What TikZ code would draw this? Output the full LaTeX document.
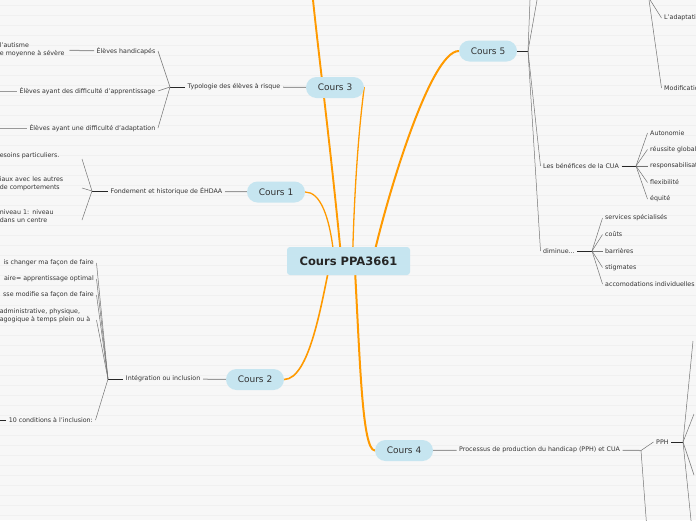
\documentclass[tikz,border=0pt]{standalone}
\usepackage{fontspec}
\setmainfont{DejaVu Sans}
\definecolor{bulle}{HTML}{C6E5F0}
\definecolor{orangebr}{HTML}{FF9A00}
\definecolor{encre}{HTML}{333333}
\definecolor{papier}{HTML}{F7F7F7}
\definecolor{raie}{HTML}{F0F0F0}
\pgfdeclarelayer{dessous}
\pgfsetlayers{dessous,main}
\tikzstyle{root} = [fill=bulle, rounded corners=3pt, minimum width=123pt, minimum height=28pt, font=\fontsize{11.5}{13}\selectfont\bfseries, text=black!85]
\tikzstyle{cours} = [fill=bulle, rounded corners=10.5pt, minimum width=58pt, minimum height=21pt, font=\fontsize{9}{10}\selectfont, text=encre]
\tikzstyle{topic} = [inner sep=2.5pt, font=\fontsize{6.3}{7.6}\selectfont, text=encre]
\tikzstyle{leaf} = [topic]
\tikzstyle{cut} = [leaf, align=left]
\tikzstyle{branch} = [draw=orangebr, line cap=round]
\tikzstyle{link} = [draw=black!40, line width=1pt]
\tikzstyle{hub} = [draw=black!85, line width=1pt]
\tikzstyle{fan} = [draw=black!55, line width=0.5pt]

\begin{document}
\begin{tikzpicture}[x=1pt, y=-1pt]
\useasboundingbox (0,0) rectangle (696,520);
\begin{pgfonlayer}{dessous}
\fill[papier] (0,0) rectangle (696,520);
\foreach \r in {5,15,...,515} \draw[raie, line width=1pt] (0,\r) -- (696,\r);
\end{pgfonlayer}

\node (root)[root] at (348.5,261) {Cours PPA3661};
\node (cours3)[cours] at (335,87.5) {Cours 3};
\node (cours1)[cours] at (276,192) {Cours 1};
\node (cours2)[cours] at (255,379.5) {Cours 2};
\node (cours5)[cours] at (488,51) {Cours 5};
\node (cours4)[cours] at (404,450.5) {Cours 4};
\coordinate (haut) at (312.5,-5);

\begin{pgfonlayer}{dessous}
\draw[branch, line width=1.9pt] ([xshift=-7pt]root.center) .. controls (331,150) and (318,50) .. (haut);
\draw[branch, line width=1.3pt] ([xshift=-14pt]root.center) .. controls (330,215) and (320,192) .. (cours1.east);
\draw[branch, line width=1.3pt] ([xshift=4pt]root.center) .. controls (355,160) and (362,105) .. (cours3.east);
\draw[branch, line width=2pt] ([xshift=24pt]root.center) .. controls (386,200) and (430,51) .. (cours5.west);
\draw[branch, line width=1.6pt] ([xshift=-18pt]root.center) .. controls (322,300) and (310,379) .. (cours2.east);
\draw[branch, line width=2pt] ([xshift=6pt]root.center) .. controls (360,360) and (362,450) .. (cours4.west);
\end{pgfonlayer}

\node (typo)[topic, anchor=east] at (283,87) {Typologie des élèves à risque};
\coordinate (j3) at (170,87);
\node (hand)[leaf, anchor=east] at (158,51) {Élèves handicapés};
\node (appr)[leaf, anchor=east] at (158,91) {Élèves ayant des difficulté d'apprentissage};
\node (adap)[leaf, anchor=east] at (158,128) {Élèves ayant une difficulté d'adaptation};
\node (autisme)[cut, text width=67pt, anchor=east] at (69.5,50) {l'autisme\\e moyenne à sévère};
\coordinate (appr-suite) at (-5,91);
\coordinate (adap-suite) at (-5,128);
\draw[link] (cours3) -- (typo);
\draw[hub] (typo) -- (j3);
\draw[fan] (j3) -- (hand.east);
\draw[fan] (j3) -- (appr.east);
\draw[fan] (j3) -- (adap.east);
\draw[link] (hand) -- (autisme);
\draw[link] (appr) -- (appr-suite);
\draw[link] (adap) -- (adap-suite);

\node (fondement)[topic, anchor=east] at (225,191) {Fondement et historique de ÉHDAA};
\coordinate (j1) at (92,191);
\node (besoins)[cut, text width=79.5pt, anchor=east] at (82,156) {esoins particuliers.};
\node (sociaux)[cut, text width=79.5pt, anchor=east] at (82,184) {iaux avec les autres\\de comportements};
\node (niveau)[cut, text width=79.5pt, anchor=east] at (82,216) {niveau 1: niveau\\dans un centre};
\draw[link] (cours1) -- (fondement);
\draw[hub] (fondement) -- (j1);
\draw[fan] (j1) -- ([yshift=-3pt]besoins.east);
\draw[fan] (j1) -- ([yshift=-4pt]sociaux.east);
\draw[fan] (j1) -- ([yshift=-4pt]niveau.east);

\node (integ)[topic, anchor=east] at (203,379) {Intégration ou inclusion};
\coordinate (j2) at (108,379);
\node (changer)[leaf, anchor=east] at (96.5,263) {is changer ma façon de faire};
\node (optimal)[leaf, anchor=east] at (96.5,279) {aire= apprentissage optimal};
\node (modifie)[leaf, anchor=east] at (96.5,295) {sse modifie sa façon de faire};
\node (admin)[cut, text width=94pt, anchor=east] at (96.5,316) {administrative, physique,\\agogique à temps plein ou à};
\node (dix)[leaf, anchor=east] at (95.5,420) {10 conditions à l'inclusion:};
\coordinate (dix-suite) at (-5,420);
\draw[link] (cours2) -- (integ);
\draw[hub] (integ) -- (j2);
\draw[fan] (j2) -- (changer.east);
\draw[fan] (j2) -- (optimal.east);
\draw[fan] (j2) -- (modifie.east);
\draw[fan] (j2) -- ([yshift=-4pt]admin.east);
\draw[fan] (j2) -- (dix.east);
\draw[hub] (dix) -- (dix-suite);

\coordinate (j5) at (528,51);
\coordinate (c5-haut-a) at (530.2,-5);
\coordinate (c5-haut-b) at (537.9,-5);
\node (benef)[leaf, anchor=west] at (540.5,166) {Les bénéfices de la CUA};
\node (dimin)[leaf, anchor=west] at (540.5,251) {diminue...};
\draw[hub] (cours5) -- (j5);
\draw[fan] (j5) -- (c5-haut-a);
\draw[fan] (j5) -- (c5-haut-b);
\draw[fan] (j5) -- (benef.west);
\draw[fan] (j5) -- (dimin.west);

\coordinate (jb) at (636,166);
\node (autonomie)[leaf, anchor=west] at (647.5,133) {Autonomie};
\node (reussite)[leaf, anchor=west] at (647.5,149.5) {réussite globale};
\node (respons)[leaf, anchor=west] at (647.5,166) {responsabilisation};
\node (flex)[leaf, anchor=west] at (647.5,182.5) {flexibilité};
\node (equite)[leaf, anchor=west] at (647.5,199) {équité};
\draw[hub] (benef) -- (jb);
\draw[fan] (jb) -- (autonomie.west);
\draw[fan] (jb) -- (reussite.west);
\draw[fan] (jb) -- (respons.west);
\draw[fan] (jb) -- (flex.west);
\draw[fan] (jb) -- (equite.west);

\coordinate (jd) at (592,251);
\node (services)[leaf, anchor=west] at (602.5,218) {services spécialisés};
\node (couts)[leaf, anchor=west] at (602.5,234.5) {coûts};
\node (barrieres)[leaf, anchor=west] at (602.5,251) {barrières};
\node (stigmates)[leaf, anchor=west] at (602.5,267.5) {stigmates};
\node (accomod)[leaf, anchor=west] at (602.5,284) {accomodations individuelles};
\draw[hub] (dimin) -- (jd);
\draw[fan] (jd) -- (services.west);
\draw[fan] (jd) -- (couts.west);
\draw[fan] (jd) -- (barrieres.west);
\draw[fan] (jd) -- (stigmates.west);
\draw[fan] (jd) -- (accomod.west);

\coordinate (jt) at (648.7,-2.3);
\node (adaptation)[leaf, anchor=west] at (661.5,18) {L'adaptation};
\node (modif)[leaf, anchor=west] at (661.5,88) {Modification};
\draw[fan] (jt) -- (adaptation.west);
\draw[fan] (jt) -- (modif.west);

\node (processus)[topic, anchor=west] at (456.5,450) {Processus de production du handicap (PPH) et CUA};
\coordinate (j4) at (641,450.5);
\node (pph)[leaf, anchor=west] at (653.5,442) {PPH};
\coordinate (j4-bas) at (646.6,525);
\coordinate (jp) at (683,442);
\coordinate (pph-a) at (693,341);
\coordinate (pph-b) at (694,414);
\coordinate (pph-c) at (694,475);
\coordinate (pph-d) at (691.5,525);
\draw[link] (cours4) -- (processus);
\draw[link] (processus) -- (j4);
\draw[fan] (j4) -- (pph.west);
\draw[fan] (j4) -- (j4-bas);
\draw[hub] (pph) -- (jp);
\draw[fan] (jp) -- (pph-a);
\draw[fan] (jp) -- (pph-b);
\draw[fan] (jp) -- (pph-c);
\draw[fan] (jp) -- (pph-d);
\end{tikzpicture}
\end{document}
